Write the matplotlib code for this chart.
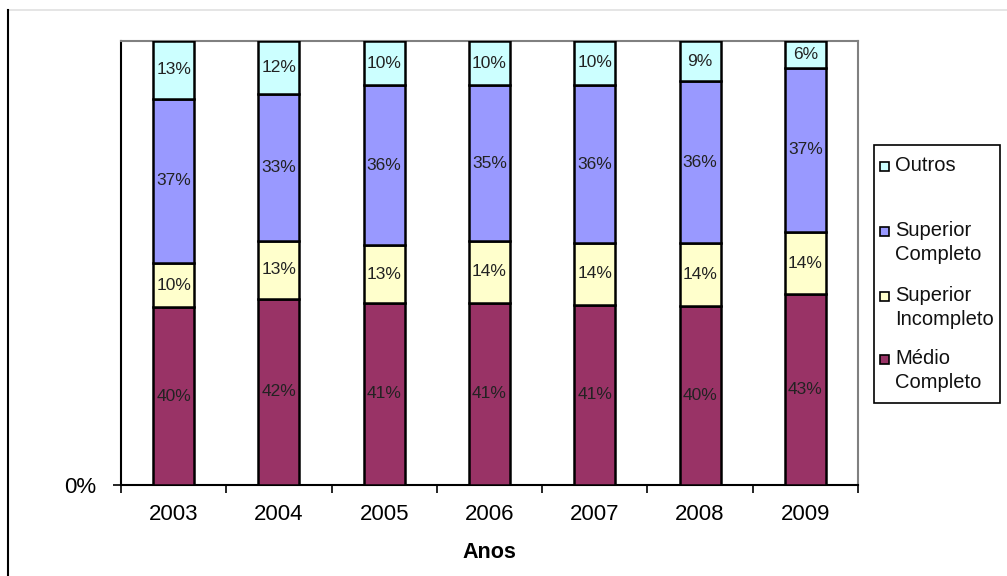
import numpy as np
import matplotlib.pyplot as plt
from matplotlib.patches import Rectangle
from matplotlib.lines import Line2D

plt.rcParams['font.family'] = ['Liberation Sans', 'DejaVu Sans']

anos = ['2003', '2004', '2005', '2006', '2007', '2008', '2009']
medio_completo = [40, 42, 41, 41, 41, 40, 43]
superior_incompleto = [10, 13, 13, 14, 14, 14, 14]
superior_completo = [37, 33, 36, 35, 36, 36, 37]
outros = [13, 12, 10, 10, 10, 9, 6]

series = [
    ('Médio\nCompleto', medio_completo, '#993366'),
    ('Superior\nIncompleto', superior_incompleto, '#FFFFCC'),
    ('Superior\nCompleto', superior_completo, '#9999FF'),
    ('Outros', outros, '#CCFFFF'),
]

# 100% stacked: scale each year so the column sums to one
totals = np.sum([s[1] for s in series], axis=0)

fig = plt.figure(figsize=(10.07, 5.76), dpi=100)
ax = fig.add_axes([121 / 1007, 91 / 576, 737 / 1007, 444 / 576])

x = np.arange(len(anos))
bottom = np.zeros(len(anos))
for name, vals, color in series:
    h = np.array(vals) / totals
    ax.bar(x, h, width=0.39, bottom=bottom, color=color,
           edgecolor='black', linewidth=1.8, zorder=3)
    for xi, b, hi, v in zip(x, bottom, h, vals):
        ax.text(xi, b + hi / 2, f'{v}%', ha='center', va='center',
                fontsize=12.5, color='#222222', zorder=4)
    bottom += h

ax.set_xlim(-0.5, len(anos) - 0.5)
ax.set_ylim(0, 1)

ax.set_xticks(x)
ax.set_xticklabels(anos, fontsize=16)
ax.set_xticks(np.arange(-0.5, len(anos)), minor=True)
ax.tick_params(axis='x', which='major', length=0, pad=14)
ax.tick_params(axis='x', which='minor', length=6, width=1.2, direction='out')
ax.set_yticks([0])
ax.set_yticklabels(['0%'], fontsize=16)
ax.tick_params(axis='y', length=6, width=1.2, pad=12)
ax.set_xlabel('Anos', fontsize=15.5, fontweight='bold', labelpad=12)

for side in ['top', 'right']:
    ax.spines[side].set_color('#808080')
    ax.spines[side].set_linewidth(1.5)
for side in ['left', 'bottom']:
    ax.spines[side].set_color('black')
    ax.spines[side].set_linewidth(1.5)

# outer frame lines of the chart area
fig.add_artist(Line2D([8 / 1007, 1], [1 - 10 / 576, 1 - 10 / 576],
                      color='#E0E0E0', linewidth=1.2))
fig.add_artist(Line2D([8 / 1007, 8 / 1007], [0, 1 - 10 / 576],
                      color='black', linewidth=1.5))

# legend box, entries listed top to bottom
W, H = 1007, 576
fig.add_artist(Rectangle((874 / W, 1 - 403 / H), 126 / W, 258 / H,
                         transform=fig.transFigure, facecolor='white',
                         edgecolor='black', linewidth=1.2))
first_line_y = [166, 231, 296, 359]
for (name, vals, color), yy in zip(series[::-1], first_line_y):
    fig.add_artist(Rectangle((880 / W, 1 - (yy + 5) / H), 9 / W, 9 / H,
                             transform=fig.transFigure, facecolor=color,
                             edgecolor='black', linewidth=1.2))
    fig.text(895 / W, 1 - (yy - 10) / H, name, ha='left', va='top',
             fontsize=14.5, linespacing=1.35, color='#111111')

fig.savefig('out.png', dpi=100)
